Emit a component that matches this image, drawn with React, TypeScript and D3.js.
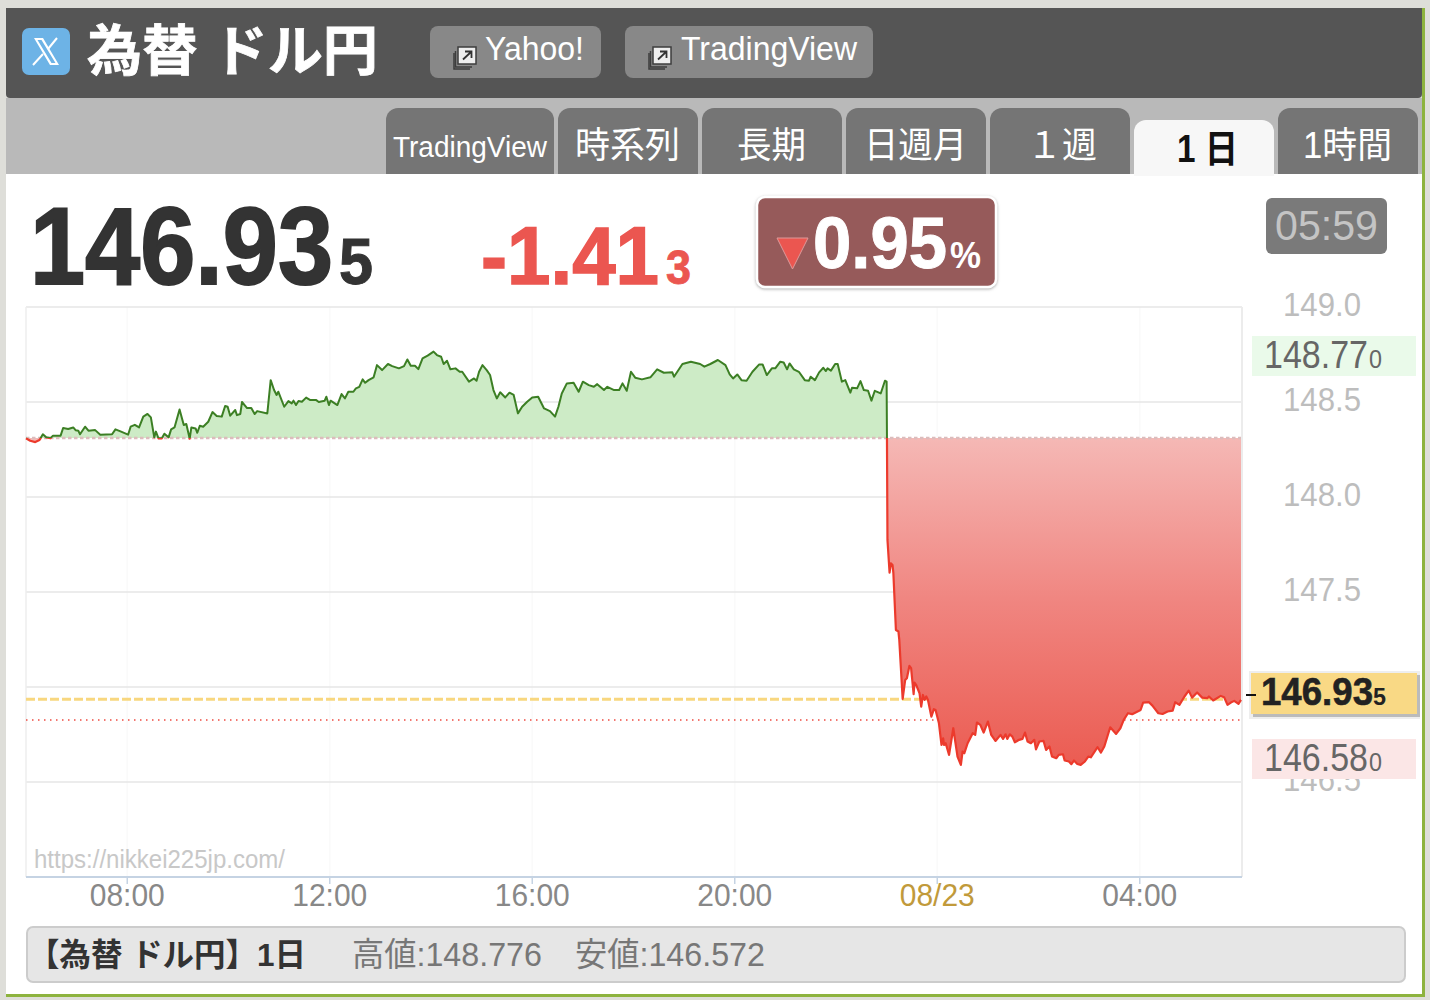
import React from "react";
import * as d3 from "d3";

const minutes = [0,5,11,16,20,24,29,32,41,44,50,56,59,62,64,70,74,82,88,102,106,112,121,124,129,134,139,144,148,152,154,157,161,164,169,172,176,182,187,190,194,196,201,203,206,210,216,221,226,232,236,239,242,248,250,254,256,262,267,271,274,286,290,294,297,299,306,311,315,317,320,323,327,332,337,344,347,354,356,359,361,369,374,378,382,388,391,395,399,402,406,412,416,422,429,434,442,448,452,456,461,465,470,476,483,487,492,495,499,503,509,514,517,525,531,534,537,541,546,550,554,558,562,568,573,578,583,588,594,600,607,614,621,627,631,635,641,649,655,660,667,673,677,685,689,697,703,707,712,717,722,730,740,748,756,766,768,778,788,799,804,811,820,829,834,838,843,848,854,861,869,873,878,884,888,894,898,902,905,910,916,923,928,930,935,940,945,948,950,954,959,962,967,971,977,979,985,989,993,998,1002,1006,1013,1018,1020,1020.4,1021,1023.5,1025,1027,1028,1031,1034,1035,1039,1042,1044,1047,1049,1052,1053,1055,1059,1061,1063,1065,1067,1069,1073,1076,1078,1082,1085,1087,1088,1090,1094,1099,1104,1108,1110,1112,1116,1122,1125,1127,1131,1135,1140,1144,1149,1155,1158,1161,1163,1166,1169,1172,1177,1181,1184,1187,1191,1195,1197,1201,1206,1209,1213,1216,1221,1224,1229,1231,1236,1239,1242,1246,1250,1255,1259,1262,1270,1274,1278,1285,1292,1297,1301,1306,1311,1321,1324,1331,1335,1342,1347,1353,1359,1362,1367,1373,1378,1382,1388,1394,1400,1402,1407,1416,1420,1424,1428,1432,1437,1440];
const prices = [148.309,148.296,148.289,148.300,148.330,148.314,148.310,148.323,148.323,148.363,148.358,148.366,148.351,148.349,148.330,148.370,148.349,148.352,148.328,148.330,148.356,148.345,148.328,148.370,148.380,148.366,148.423,148.437,148.419,148.314,148.344,148.309,148.309,148.333,148.314,148.356,148.366,148.461,148.379,148.384,148.307,148.366,148.361,148.338,148.375,148.370,148.396,148.447,148.426,148.423,148.479,148.475,148.428,148.458,148.431,148.437,148.500,148.468,148.468,148.437,148.452,148.440,148.615,148.563,148.537,148.554,148.475,148.505,148.493,148.507,148.484,148.505,148.501,148.523,148.510,148.510,148.500,148.507,148.528,148.484,148.507,148.484,148.542,148.519,148.554,148.554,148.572,148.580,148.619,148.601,148.615,148.630,148.694,148.668,148.700,148.689,148.677,148.689,148.724,148.691,148.691,148.673,148.729,148.744,148.765,148.747,148.738,148.700,148.717,148.672,148.677,148.659,148.659,148.607,148.624,148.612,148.659,148.694,148.668,148.642,148.563,148.519,148.551,148.524,148.549,148.537,148.440,148.475,148.501,148.524,148.528,148.466,148.452,148.423,148.475,148.545,148.598,148.601,148.554,148.607,148.589,148.580,148.594,148.563,148.580,148.563,148.563,148.598,148.559,148.659,148.628,148.619,148.630,148.672,148.654,148.656,148.633,148.700,148.712,148.700,148.686,148.700,148.721,148.694,148.645,148.624,148.645,148.615,148.612,148.659,148.698,148.698,148.642,148.677,148.677,148.712,148.708,148.672,148.703,148.672,148.659,148.615,148.612,148.633,148.615,148.656,148.680,148.663,148.677,148.665,148.700,148.700,148.607,148.615,148.549,148.575,148.572,148.610,148.563,148.559,148.507,148.559,148.545,148.612,148.607,148.310,147.774,147.602,147.651,147.642,147.599,147.300,147.292,147.248,146.937,147.037,147.046,147.111,147.099,146.962,147.023,147.011,146.967,146.897,146.958,146.932,146.950,146.932,146.844,146.883,146.879,146.809,146.695,146.730,146.695,146.704,146.643,146.783,146.634,146.590,146.660,146.651,146.704,146.757,146.748,146.813,146.801,146.760,146.818,146.748,146.716,146.748,146.727,146.751,146.727,146.751,146.739,146.709,146.722,146.727,146.760,146.713,146.704,146.722,146.672,146.713,146.716,146.669,146.687,146.634,146.625,146.643,146.646,146.613,146.608,146.594,146.613,146.595,146.590,146.608,146.634,146.630,146.683,146.655,146.687,146.788,146.753,146.783,146.827,146.862,146.857,146.879,146.918,146.920,146.902,146.862,146.858,146.871,146.876,146.920,146.906,146.950,146.981,146.944,146.971,146.944,146.941,146.950,146.929,146.953,146.946,146.906,146.918,146.927,146.911,146.932];

const baseline = 148.31;
const current = 146.935;
const dotted = 146.826;
const yTicks = [149.0, 148.5, 148.0, 147.5, 147.0, 146.5];
const xTicks = [120, 360, 600, 840, 1080, 1320];
const xLabels = ["08:00", "12:00", "16:00", "20:00", "08/23", "04:00"];
const tabs = ["TradingView", "時系列", "長期", "日週月", "１週", "1 日", "1時間"];

const SANS = '"Liberation Sans", "Noto Sans CJK JP", sans-serif';

type TProps = { x: number; y: number; w?: number; s: number; c: string; b?: boolean; a?: string; k?: number; t: string };
const T = ({ x, y, w, s, c, b, a, k, t }: TProps) => (
  <text x={x} y={y} fontSize={s} fill={c} fontWeight={b ? 700 : 400} fontFamily={SANS} textAnchor={a || "start"}
    stroke={k ? c : undefined} strokeWidth={k}
    textLength={w} lengthAdjust={w ? "spacingAndGlyphs" : undefined}>{t}</text>
);

const LinkIcon = ({ x, y }: { x: number; y: number }) => (
  <g>
    <path d={`M${x + 2},${y + 8}V${y + 24}H${x + 18}`} fill="none" stroke="#3d3d3d" strokeWidth={1.5} />
    <path d={`M${x + 3.5},${y + 6}V${y + 22}H${x + 20}`} fill="none" stroke="#3d3d3d" strokeWidth={1.5} />
    <rect x={x + 6} y={y + 2} width={18} height={17} fill="#eee" stroke="#3d3d3d" strokeWidth={1.5} />
    <path d={`M${x + 11},${y + 14.5}L${x + 19},${y + 7}M${x + 13},${y + 6.5}H${x + 19.5}V${y + 13}`} fill="none" stroke="#333" strokeWidth={1.8} />
  </g>
);

export default function App() {
  const x = d3.scaleLinear().domain([0, 1440]).range([26, 1241]);
  const y = d3.scaleLinear().domain([149, 146]).range([307, 877]);
  const points = minutes.map((m, i) => [m, prices[i]] as [number, number]);
  const line = d3.line<[number, number]>().x((d) => x(d[0])).y((d) => y(d[1]));
  const area = d3.area<[number, number]>().x((d) => x(d[0])).y0(y(baseline)).y1((d) => y(d[1]));
  const by = y(baseline);
  const tabX = d3.range(tabs.length).map((i) => (i === 0 ? 386 : 558 + (i - 1) * 144));
  const tabW = tabs.map((_, i) => (i === 0 ? 168 : 140));
  const tabText = [[393, 154, 30], [575, 105, 36], [737, 69, 36], [864, 103, 36], [1027, 70, 36], [1177, 61, 38], [1303, 89, 36]];

  return (
    <svg width={1430} height={1000} viewBox="0 0 1430 1000" style={{ position: "absolute", left: 0, top: 0, display: "block" }}>
      <defs>
        <linearGradient id="redFill" gradientUnits="userSpaceOnUse" x1={0} x2={0} y1={by} y2={765}>
          <stop offset="0" stopColor="#f5b8b5" />
          <stop offset="0.5" stopColor="#f08580" />
          <stop offset="1" stopColor="#eb5c52" />
        </linearGradient>
        <clipPath id="above"><rect x={0} y={0} width={1430} height={by} /></clipPath>
        <clipPath id="below"><rect x={0} y={by} width={1430} height={1000 - by} /></clipPath>
        <filter id="sh" x="-5%" y="-10%" width="110%" height="125%"><feDropShadow dx={0} dy={1} stdDeviation={1.5} floodColor="#888" floodOpacity={0.7} /></filter>
      </defs>

      <rect width={1430} height={1000} fill="#deded9" />
      <rect x={6} y={98} width={1416} height={896} fill="#fff" />
      <rect x={1422} y={8} width={3} height={989} fill="#8db33e" />
      <rect x={6} y={994} width={1419} height={3} fill="#8db33e" />
      <rect x={6} y={98} width={1416} height={76} fill="#b9b9b9" />
      <path d="M6,8H1422V94a4,4 0 0 1 -4,4H10a4,4 0 0 1 -4,-4Z" fill="#555" />

      <rect x={22} y={28} width={48} height={47} rx={7} fill="#6db3e6" />
      <path d="M34,38H43L59,65H50ZM37.5,40L51.5,63H55.5L41.5,40Z" fill="#fff" fillRule="evenodd" />
      <path d="M57,38L48,49M43,54L33,65" stroke="#fff" strokeWidth={2} fill="none" />
      <T x={87} y={70} w={291} s={55} c="#fff" b k={0.8} t="為替 ドル円" />

      <rect x={430} y={26} width={171} height={52} rx={8} fill="#888" />
      <LinkIcon x={452} y={45} />
      <T x={485} y={60} w={99} s={34} c="#fff" t="Yahoo!" />
      <rect x={625} y={26} width={248} height={52} rx={8} fill="#888" />
      <LinkIcon x={647} y={45} />
      <T x={681} y={60} w={176} s={34} c="#fff" t="TradingView" />

      {tabs.map((t, i) => {
        const active = i === 5;
        const top = active ? 120 : 108;
        const xx = tabX[i], w = tabW[i];
        return (
          <g key={t}>
            <path d={`M${xx},176V${top + 12}a12,12 0 0 1 12,-12H${xx + w - 12}a12,12 0 0 1 12,12V176Z`} fill={active ? "#f7f7f7" : "#757575"} />
            <T x={tabText[i][0]} y={active ? 162 : i === 0 ? 157 : 158} w={tabText[i][1]} s={tabText[i][2]} c={active ? "#111" : "#fff"} b={active} t={t} />
          </g>
        );
      })}
      <rect x={6} y={174} width={1128} height={4} fill="#fff" />
      <rect x={1274} y={174} width={148} height={4} fill="#fff" />

      <T x={30} y={284} w={303} s={110} c="#333" b k={2} t="146.93" />
      <T x={339} y={284} w={34} s={64} c="#333" b k={1} t="5" />
      <T x={481} y={284} w={178} s={81} c="#eb5650" b k={1.5} t="-1.41" />
      <T x={666} y={284} w={25} s={48} c="#eb5650" b k={0.8} t="3" />

      <rect x={757} y={197} width={239} height={90} rx={8} fill="#965a5a" stroke="#fff" strokeWidth={2.5} filter="url(#sh)" />
      <path d="M777,238H808L792.5,269Z" fill="#eb5650" stroke="#d99" strokeWidth={1} />
      <T x={813} y={268} w={134} s={72} c="#fff" b k={1} t="0.95" />
      <T x={950} y={268} w={31} s={36} c="#fff" b t="%" />

      <rect x={1266} y={198} width={121} height={56} rx={6} fill="#7a7a7a" />
      <T x={1275} y={240} w={103} s={42} c="#c4c4c4" t="05:59" />

      {xTicks.map((t) => <line key={t} x1={x(t)} x2={x(t)} y1={307} y2={877} stroke="#fafafa" strokeWidth={1.5} />)}
      {yTicks.map((t) => <line key={t} x1={26} x2={1242} y1={y(t)} y2={y(t)} stroke="#e6e6e6" strokeWidth={1.5} />)}
      <line x1={26} x2={26} y1={307} y2={877} stroke="#eee" strokeWidth={1.5} />
      <line x1={1242} x2={1242} y1={307} y2={877} stroke="#ececec" strokeWidth={2} />

      <line x1={26} x2={1241} y1={y(dotted)} y2={y(dotted)} stroke="#ee4a40" strokeWidth={1.5} strokeDasharray="1.5 4.5" />
      <line x1={26} x2={1241} y1={y(current)} y2={y(current)} stroke="#f8d77f" strokeWidth={3} strokeDasharray="9 3" />

      <path d={area(points)!} fill="#cdebc6" clipPath="url(#above)" />
      <path d={area(points)!} fill="url(#redFill)" clipPath="url(#below)" />
      <line x1={26} x2={1241} y1={by} y2={by} stroke="#dcbcbc" strokeWidth={2.5} strokeDasharray="3.5 2.5" />
      <path d={line(points)!} fill="none" stroke="#3c7f24" strokeWidth={2} strokeLinejoin="round" clipPath="url(#above)" />
      <path d={line(points)!} fill="none" stroke="#ec3a2c" strokeWidth={2.2} strokeLinejoin="round" clipPath="url(#below)" />

      <line x1={26} x2={1242} y1={877} y2={877} stroke="#c5d3e3" strokeWidth={2} />
      {xTicks.map((t) => <line key={t} x1={x(t)} x2={x(t)} y1={877} y2={884} stroke="#c5d3e3" strokeWidth={1.5} />)}
      <T x={34} y={868} w={251} s={25} c="#c8c8c8" t="https://nikkei225jp.com/" />

      {xTicks.map((t, i) => (
        <T key={t} x={x(t) - 37.5} y={906} w={75} s={32} c={i === 4 ? "#c19a3b" : "#888"} t={xLabels[i]} />
      ))}

      {yTicks.map((t) => (
        <T key={t} x={1283} y={y(t) + 8.5} w={78} s={33} c="#bdbdbd" t={t.toFixed(1)} />
      ))}

      <rect x={1252} y={336} width={164} height={40} fill="#eafaea" />
      <T x={1264} y={368} w={104} s={38} c="#666" t="148.77" />
      <T x={1369} y={368} w={13} s={26} c="#666" t="0" />

      <rect x={1252} y={739} width={164} height={40} fill="#fbe6e6" />
      <T x={1264} y={771} w={104} s={38} c="#666" t="146.58" />
      <T x={1369} y={771} w={13} s={26} c="#666" t="0" />

      <rect x={1249} y={671} width={171} height={48} fill="#eee" />
      <rect x={1253} y={675} width={167} height={42} fill="#bbb" />
      <rect x={1251} y={673} width={166} height={41} fill="#f9d985" />
      <line x1={1246} x2={1256} y1={695} y2={695} stroke="#111" strokeWidth={2} />
      <T x={1261} y={705} w={112} s={39} c="#222" b k={0.6} t="146.93" />
      <T x={1373} y={705} w={13} s={24} c="#222" b t="5" />

      <rect x={27} y={927} width={1378} height={55} rx={6} fill="#e6e6e6" stroke="#ccc" strokeWidth={2} />
      <T x={28} y={966} w={278} s={32} c="#333" b t="【為替 ドル円】1日" />
      <T x={352} y={966} w={190} s={33} c="#777" t="高値:148.776" />
      <T x={575} y={966} w={190} s={33} c="#777" t="安値:146.572" />
    </svg>
  );
}
